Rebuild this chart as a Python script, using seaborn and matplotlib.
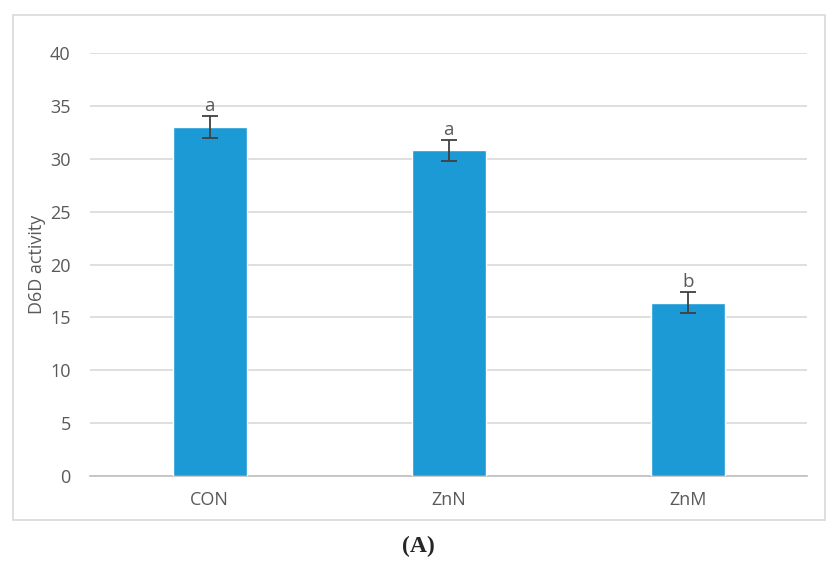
import pandas as pd
import matplotlib.pyplot as plt
import matplotlib.patches as patches
import seaborn as sns

# values
groups = ['CON', 'ZnN', 'ZnM']
activity = [33.0, 30.8, 16.4]
errors = [1.0, 1.0, 1.0]
letters = ['a', 'a', 'b']

df = pd.DataFrame({'group': groups, 'activity': activity, 'err': errors})

sns.set_style('white')
plt.rcParams['font.family'] = ['Open Sans', 'DejaVu Sans']

fig = plt.figure(figsize=(8.27, 5.61), dpi=100)
ax = fig.add_axes([0.109, 0.1515, 0.867, 0.754])

sns.barplot(data=df, x='group', y='activity', color='#1B9AD6', saturation=1,
            width=0.31, errorbar=None, ax=ax, zorder=3)
ax.errorbar(range(len(groups)), df['activity'], yerr=df['err'], fmt='none',
            ecolor='#404040', elinewidth=1.3, capsize=6, capthick=1.3, zorder=4)
for i, (v, e, l) in enumerate(zip(activity, errors, letters)):
    ax.text(i, v + e + 0.1, l, ha='center', va='bottom', fontsize=13.5, color='#595959')

ax.set_xlim(-0.5, 2.5)
ax.set_ylim(0, 40)
ax.set_yticks(range(0, 41, 5))
ax.yaxis.grid(True, color='#D9D9D9', linewidth=1.2, zorder=0)
ax.set_axisbelow(True)
for s in ['top', 'right', 'left']:
    ax.spines[s].set_visible(False)
ax.spines['bottom'].set_color('#BFBFBF')
ax.spines['bottom'].set_linewidth(1.2)
ax.tick_params(axis='both', length=0, labelsize=13, labelcolor='#595959', pad=14)
ax.tick_params(axis='x', pad=11)
ax.set_xlabel('')
ax.set_ylabel('D6D activity', fontsize=13, color='#595959', labelpad=3)

# outer chart frame and caption
fig.patches.append(patches.Rectangle((13 / 827, 1 - 520 / 561), 812 / 827, 505 / 561,
                                     transform=fig.transFigure, fill=False,
                                     edgecolor='#D9D9D9', linewidth=1.2))
fig.text(418 / 827, 1 - 546 / 561, '(A)', ha='center', va='center', fontsize=17,
         fontweight='bold', family=['Liberation Serif'])

fig.savefig('out.png', dpi=100)
